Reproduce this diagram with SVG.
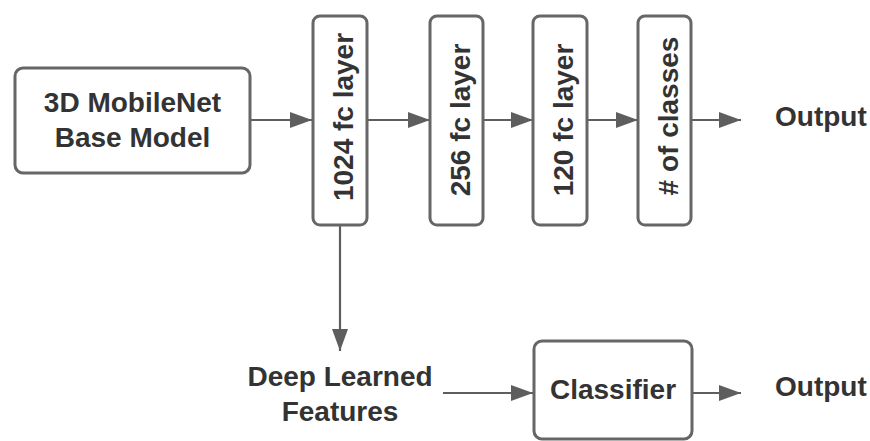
<svg xmlns="http://www.w3.org/2000/svg" width="870" height="441" viewBox="0 0 870 441">
  <style>
    .box { fill: #ffffff; stroke: #666666; stroke-width: 3; }
    .lbl { font-family: "Liberation Sans", Arial, sans-serif; font-weight: bold; font-size: 28px; fill: #333333; }
    .mid { text-anchor: middle; }
    .wire { fill: none; stroke: #5e5e5e; stroke-width: 2.2; }
  </style>
  <defs>
    <marker id="arrow" viewBox="0 0 22 16" refX="22" refY="8" markerWidth="22" markerHeight="16" markerUnits="userSpaceOnUse" orient="auto">
      <path d="M0,0 L22,8 L0,16 Z" fill="#5e5e5e"/>
    </marker>
  </defs>
  <rect width="870" height="441" fill="#ffffff"/>

  <!-- connectors -->
  <g id="connectors">
    <path class="wire" d="M250,120 L312,120" marker-end="url(#arrow)"/>
    <path class="wire" d="M367,120 L430,120" marker-end="url(#arrow)"/>
    <path class="wire" d="M483,120 L533,120" marker-end="url(#arrow)"/>
    <path class="wire" d="M587,120 L638,120" marker-end="url(#arrow)"/>
    <path class="wire" d="M691,120 L741,120" marker-end="url(#arrow)"/>
    <path class="wire" d="M340,225 L340,351" marker-end="url(#arrow)"/>
    <path class="wire" d="M443,393 L533,393" marker-end="url(#arrow)"/>
    <path class="wire" d="M692,393 L741,393" marker-end="url(#arrow)"/>
  </g>

  <g id="base-model">
    <rect class="box" x="15" y="68" width="235" height="105" rx="8"/>
    <text class="lbl mid" x="132.5" y="112">3D MobileNet</text>
    <text class="lbl mid" x="132.5" y="147">Base Model</text>
  </g>

  <g id="fc1024">
    <rect class="box" x="313" y="16" width="54" height="209" rx="7"/>
    <text class="lbl mid" transform="translate(353,117) rotate(-90)">1024 fc layer</text>
  </g>

  <g id="fc256">
    <rect class="box" x="430" y="16" width="53" height="209" rx="7"/>
    <text class="lbl mid" transform="translate(470,120) rotate(-90)">256 fc layer</text>
  </g>

  <g id="fc120">
    <rect class="box" x="533" y="16" width="54" height="209" rx="7"/>
    <text class="lbl mid" transform="translate(573,120) rotate(-90)">120 fc layer</text>
  </g>

  <g id="classes">
    <rect class="box" x="638" y="16" width="53" height="209" rx="7"/>
    <text class="lbl mid" transform="translate(678,116) rotate(-90)"># of classes</text>
  </g>

  <g id="output-top">
    <text class="lbl" x="775" y="126">Output</text>
  </g>

  <g id="features">
    <text class="lbl mid" x="340" y="386">Deep Learned</text>
    <text class="lbl mid" x="340" y="421">Features</text>
  </g>

  <g id="classifier">
    <rect class="box" x="534" y="341" width="158" height="98" rx="8"/>
    <text class="lbl mid" x="613" y="399">Classifier</text>
  </g>

  <g id="output-bottom">
    <text class="lbl" x="775" y="396">Output</text>
  </g>
</svg>
